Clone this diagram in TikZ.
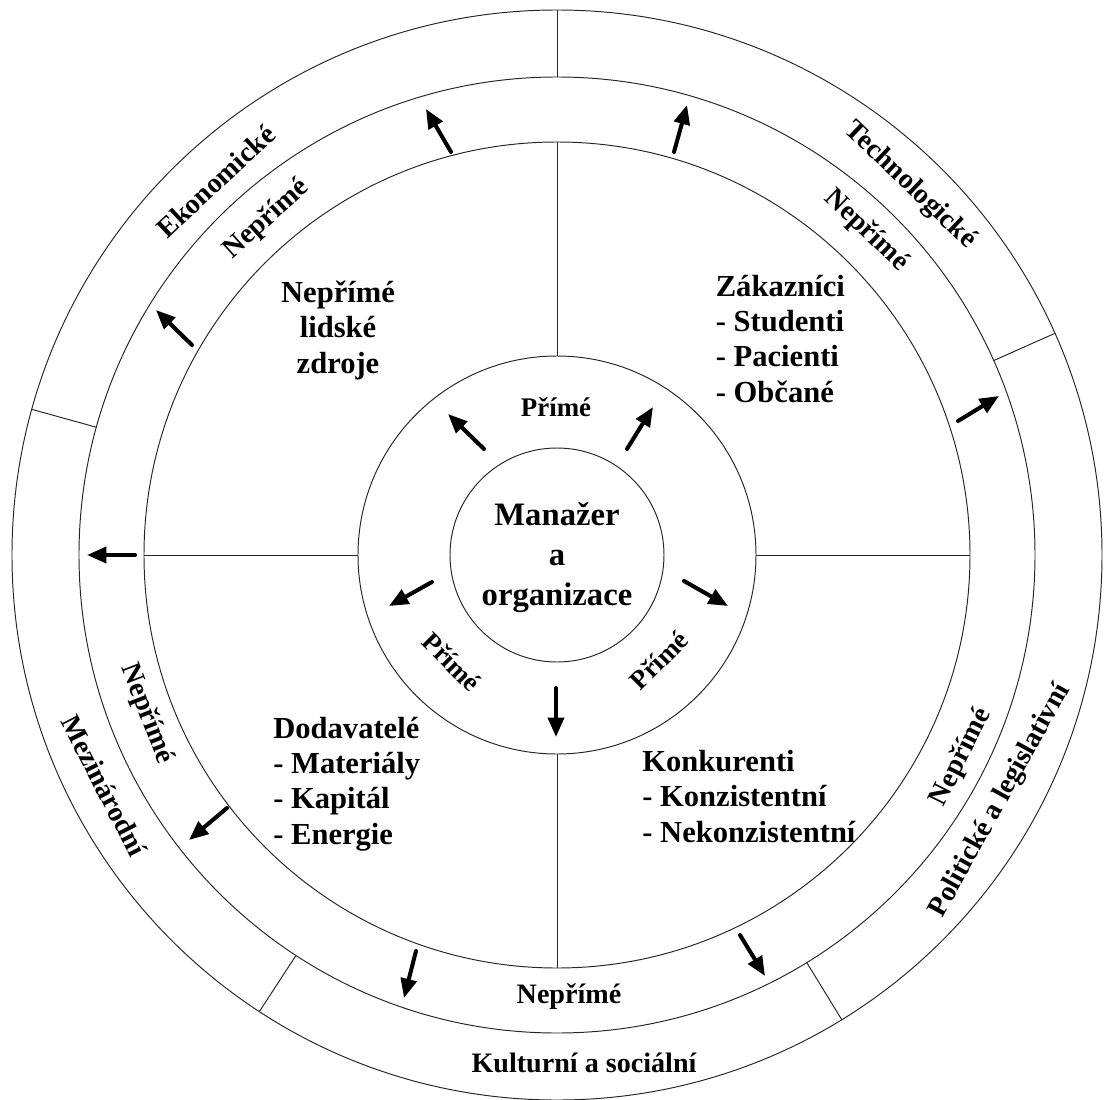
\documentclass[tikz,border=0pt]{standalone}
\usepackage{fontspec}
\setmainfont{Liberation Serif}
\usetikzlibrary{arrows.meta}
\begin{document}
\begin{tikzpicture}[x=0.02cm,y=0.02cm,
  ring/.style={draw=black!85, line width=0.55pt},
  arr/.style={line width=2.3pt, line cap=round, -{Triangle[length=11pt,width=9pt]}},
  big/.style={font=\bfseries\fontsize{17.4}{20.1}\selectfont, inner sep=0pt},
  core/.style={font=\bfseries\fontsize{18.6}{22.7}\selectfont, inner sep=0pt, align=center},
  ringtxt/.style={font=\bfseries\fontsize{16}{18}\selectfont, inner sep=0pt},
  primetxt/.style={font=\bfseries\fontsize{15.3}{18}\selectfont, inner sep=0pt}
]
\useasboundingbox (-557,-544) rectangle (547,555);
% circles
\draw[ring] (0,0) circle (545);
\draw[ring] (0,0) circle (478);
\draw[ring] (0,0) circle (413);
\draw[ring] (0,0) circle (199);
\draw[ring] (0,0) circle (107);
% inner dividers
\foreach \a in {0,90,180,270} \draw[ring] (\a:199) -- (\a:413);
% outer dividers
\foreach \a in {90,164.5,236.9,301.5,24} \draw[ring] (\a:478) -- (\a:545);
% inner arrows
\draw[arr] (-73,106) -- (-109,141);
\draw[arr] (70,106) -- (96,148);
\draw[arr] (127,-26) -- (171,-51);
\draw[arr] (-1,-133) -- (-1,-182);
\draw[arr] (-125,-27) -- (-168,-51);
% outer arrows
\draw[arr] (-106,403) -- (-131,446);
\draw[arr] (-365,210) -- (-401,245);
\draw[arr] (-422,0) -- (-470,0);
\draw[arr] (117,403) -- (130,450);
\draw[arr] (401,134) -- (442,159);
\draw[arr] (-330,-253) -- (-368,-285);
\draw[arr] (-141,-396) -- (-153,-443);
\draw[arr] (183,-380) -- (208,-421);
% core
\node[core, anchor=base] (core) at (0,-50) {Manažer\\a\\organizace};
% inner ring labels
\node[primetxt] (p1) at (-1,148) {Přímé};
\node[primetxt, rotate=-45] (p2) at (-105,-107) {Přímé};
\node[primetxt, rotate=45] (p3) at (102,-105) {Přímé};
% sector labels
\node[big, align=center, anchor=base] (hr) at (-219,182) {Nepřímé\\lidské\\zdroje};
\node[big, align=left, anchor=base west] (cust) at (158.5,153) {Zákazníci\\- Studenti\\- Pacienti\\- Občané};
\node[big, align=left, anchor=base west] (supp) at (-284,-289) {Dodavatelé\\- Materiály\\- Kapitál\\- Energie};
\node[big, align=left, anchor=base west] (comp) at (85,-287) {Konkurenti\\- Konzistentní\\- Nekonzistentní};
% Neprime ring labels
\node[ringtxt, rotate=42] (n1) at (130.9:444) {Nepřímé};
\node[ringtxt, rotate=-43.6] (n2) at (46.4:448) {Nepřímé};
\node[ringtxt, rotate=-68.8] (n3) at (201.2:440) {Nepřímé};
\node[ringtxt] (n4) at (12,-442) {Nepřímé};
\node[ringtxt, rotate=63.4] (n5) at (-26.6:452) {Nepřímé};
% outer labels
\node[ringtxt, rotate=43] (o1) at (132.4:506) {Ekonomické};
\node[ringtxt, rotate=-43.7] (o2) at (46.3:511) {Technologické};
\node[ringtxt, rotate=-63] (o3) at (207:508) {Mezinárodní};
\node[ringtxt] (o4) at (27,-508) {Kulturní a sociální};
\node[ringtxt, rotate=61] (o5) at (-29:507) {Politické a legislativní};
\end{tikzpicture}
\end{document}
